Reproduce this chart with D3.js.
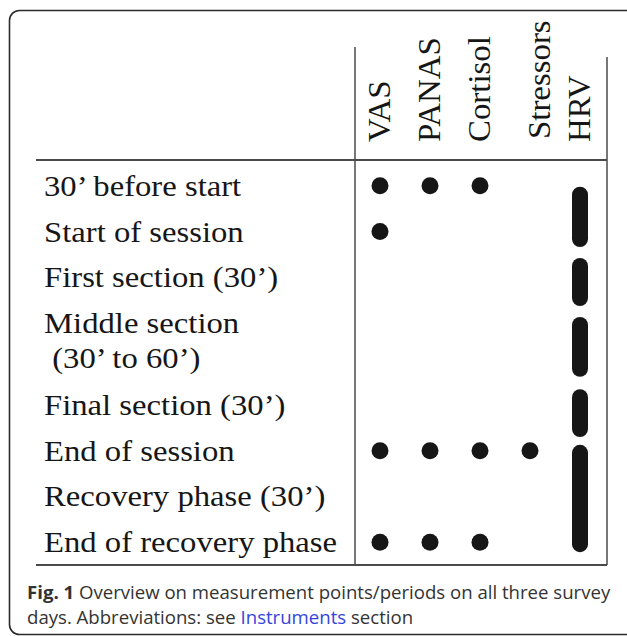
<!DOCTYPE html>
<html><head><meta charset="utf-8">
<script src="https://cdn.jsdelivr.net/npm/d3@7"></script>
<style>html,body{margin:0;padding:0;background:#fff;}</style>
</head><body>
<script>
// ---- data ----
const columns = ["VAS", "PANAS", "Cortisol", "Stressors", "HRV"];
const rows = ["30’ before start", "Start of session", "First section (30’)", "Middle section\n (30’ to 60’)", "Final section (30’)", "End of session", "Recovery phase (30’)", "End of recovery phase"];
const rowLines = [1, 1, 1, 1.8, 1, 1, 1, 1];      // relative row heights (line units)
const measurePoints = [                            // [instrument, row index]
  ["VAS", 0], ["PANAS", 0], ["Cortisol", 0],
  ["VAS", 1],
  ["VAS", 5], ["PANAS", 5], ["Cortisol", 5], ["Stressors", 5],
  ["VAS", 7], ["PANAS", 7], ["Cortisol", 7]
];
const hrvPeriods = [[0.52, 1.84], [2.08, 3.13], [3.37, 4.68], [4.95, 6.0], [6.17, 8.52]]; // in line units
const captionBold = "Fig. 1";
const captionLine1 = " Overview on measurement points/periods on all three survey";
const captionLine2a = "days. Abbreviations: see ";
const captionLink = "Instruments";
const captionLine2b = " section";

// ---- layout ----
const W = 627, H = 636;
const svg = d3.select("body").append("svg").attr("width", W).attr("height", H);

// frame
svg.append("rect").attr("x", 9.5).attr("y", 10.5).attr("width", 660).attr("height", 624)
  .attr("rx", 10).attr("fill", "none").attr("stroke", "#2b2b2b").attr("stroke-width", 1.6);

const tableLeft = 36, tableRight = 607, divX = 355, headY = 160, bodyTop = 163, bodyBottom = 565;
const totalUnits = d3.sum(rowLines);
const y = d3.scaleLinear().domain([0, totalUnits]).range([bodyTop, bodyBottom]);
const x = d3.scalePoint().domain(columns).range([380, 580]);
const rowStart = d3.cumsum([0, ...rowLines]);

const lineCol = "#4a4a4a";
svg.append("line").attr("x1", tableLeft).attr("x2", tableRight).attr("y1", headY).attr("y2", headY)
  .attr("stroke", lineCol).attr("stroke-width", 1.8);
svg.append("line").attr("x1", tableLeft).attr("x2", tableRight).attr("y1", bodyBottom).attr("y2", bodyBottom)
  .attr("stroke", lineCol).attr("stroke-width", 1.8);
svg.append("line").attr("x1", divX).attr("x2", divX).attr("y1", 47).attr("y2", bodyBottom)
  .attr("stroke", lineCol).attr("stroke-width", 1.5);
svg.append("line").attr("x1", tableRight).attr("x2", tableRight).attr("y1", 57).attr("y2", bodyBottom)
  .attr("stroke", lineCol).attr("stroke-width", 1.5);

const serif = "'Liberation Serif', 'Times New Roman', serif";
const ink = "#161616";

// headers
svg.selectAll("text.hdr").data(columns).join("text").attr("class", "hdr")
  .attr("transform", d => `translate(${x(d) + 10 + (d === "Stressors" ? 10 : 0)},${d === "Stressors" ? 139 : 142}) rotate(-90) scale(1.06,1)`)
  .attr("font-family", serif).attr("font-size", 31).attr("fill", ink)
  .text(d => d);

// row labels
rows.forEach((r, i) => {
  const parts = r.split("\n");
  parts.forEach((p, j) => {
    svg.append("text")
      .attr("transform", `translate(44,${y(rowStart[i] + 0.5 + j * 0.77) + 10}) scale(1.09,1)`)
      .attr("font-family", serif).attr("font-size", 30).attr("fill", ink)
      .attr("xml:space", "preserve").style("white-space", "pre")
      .text(p);
  });
});

// dots
svg.selectAll("circle.pt").data(measurePoints).join("circle").attr("class", "pt")
  .attr("cx", d => x(d[0])).attr("cy", d => y(rowStart[d[1]] + 0.5))
  .attr("r", 8.5).attr("fill", ink);

// HRV periods
svg.selectAll("rect.hrv").data(hrvPeriods).join("rect").attr("class", "hrv")
  .attr("x", x("HRV") - 8).attr("width", 16)
  .attr("y", d => y(d[0])).attr("height", d => y(d[1]) - y(d[0]))
  .attr("rx", 8).attr("fill", ink);

// caption
const sans = "'Open Sans', 'Noto Sans', sans-serif";
const t1 = svg.append("text").attr("x", 27).attr("y", 599).attr("font-family", sans)
  .attr("font-size", 18.6).attr("fill", "#333").style("white-space", "pre");
t1.append("tspan").attr("font-weight", "bold").text(captionBold);
t1.append("tspan").text(captionLine1);
const t2 = svg.append("text").attr("x", 27).attr("y", 624).attr("font-family", sans)
  .attr("font-size", 18.6).attr("fill", "#333").style("white-space", "pre");
t2.append("tspan").text(captionLine2a);
t2.append("tspan").attr("fill", "#3344dd").text(captionLink);
t2.append("tspan").text(captionLine2b);
</script>
</body></html>
